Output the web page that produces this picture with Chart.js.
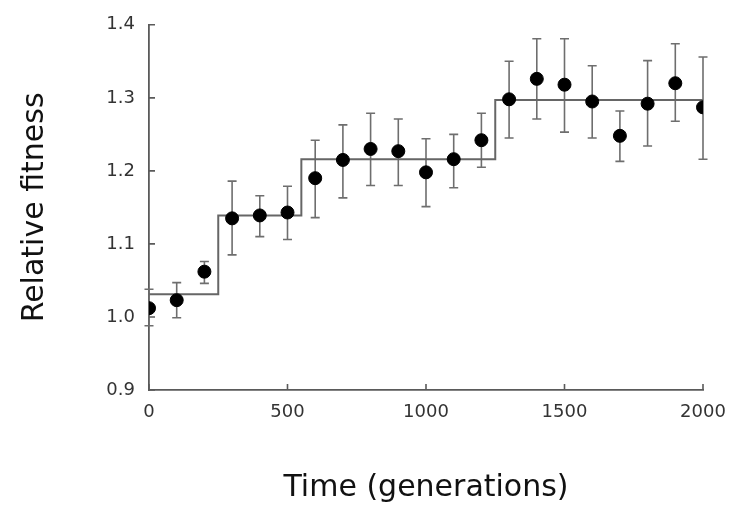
<!DOCTYPE html>
<html>
<head>
<meta charset="utf-8">
<script src="https://cdn.jsdelivr.net/npm/chart.js@4.4.0/dist/chart.umd.min.js"></script>
<style>
  html, body { margin: 0; padding: 0; background: #fff; }
  #wrap { width: 748px; height: 506px; }
</style>
</head>
<body>
<div id="wrap"><canvas id="fitness__Chart" width="748" height="506"></canvas></div>
<script>
// Generations sampled (x) and mean relative fitness (y)
const generations = [0, 100, 200, 300, 400, 500, 600, 700, 800, 900, 1000,
  1100, 1200, 1300, 1400, 1500, 1600, 1700, 1800, 1900, 2000];
const fitness = [1.012, 1.023, 1.062, 1.135, 1.139, 1.143, 1.190, 1.215, 1.230, 1.227, 1.198,
  1.216, 1.242, 1.298, 1.326, 1.318, 1.295, 1.248, 1.292, 1.320, 1.287];
// Error bar ends
const errUpper = [1.038, 1.047, 1.076, 1.186, 1.166, 1.179, 1.242, 1.263, 1.279, 1.271, 1.244,
  1.250, 1.279, 1.350, 1.381, 1.381, 1.344, 1.282, 1.351, 1.374, 1.356];
const errLower = [0.988, 0.999, 1.046, 1.085, 1.110, 1.106, 1.136, 1.163, 1.180, 1.180, 1.151,
  1.177, 1.205, 1.245, 1.271, 1.253, 1.245, 1.213, 1.234, 1.268, 1.216];

// Step function fitted through the data
const stepX = [0, 250, 550, 1250, 2000];
const stepY = [1.031, 1.139, 1.216, 1.297, 1.297];

// Tick labels
const xTicks = [0, 500, 1000, 1500, 2000];
const yTicks = [0.9, 1.0, 1.1, 1.2, 1.3, 1.4];

const axisColor = '#5a5a5a';

// Draw error bars using the chart scales
const errorBars = {
  id: 'errorBars',
  beforeDatasetsDraw(chart) {
    const ctx = chart.ctx;
    const xs = chart.scales.x;
    const ys = chart.scales.y;
    ctx.save();
    ctx.strokeStyle = '#6e6e6e';
    ctx.lineWidth = 1.6;
    generations.forEach((g, i) => {
      const x = xs.getPixelForValue(g);
      const yTop = ys.getPixelForValue(errUpper[i]);
      const yBot = ys.getPixelForValue(errLower[i]);
      ctx.beginPath();
      ctx.moveTo(x, yTop);
      ctx.lineTo(x, yBot);
      ctx.moveTo(x - 4.5, yTop);
      ctx.lineTo(x + 4.5, yTop);
      ctx.moveTo(x - 4.5, yBot);
      ctx.lineTo(x + 4.5, yBot);
      ctx.stroke();
    });
    ctx.restore();
  }
};

// Axis ticks pointing into the plot
const innerTicks = {
  id: 'innerTicks',
  afterDraw(chart) {
    const ctx = chart.ctx;
    const xs = chart.scales.x;
    const ys = chart.scales.y;
    const area = chart.chartArea;
    ctx.save();
    ctx.strokeStyle = axisColor;
    ctx.lineWidth = 1.6;
    ctx.beginPath();
    xTicks.forEach(v => {
      const x = xs.getPixelForValue(v);
      ctx.moveTo(x, area.bottom);
      ctx.lineTo(x, area.bottom - 6);
    });
    yTicks.forEach(v => {
      const y = ys.getPixelForValue(v);
      ctx.moveTo(area.left, y);
      ctx.lineTo(area.left + 6, y);
    });
    ctx.stroke();
    ctx.restore();
  }
};

const ctx = document.getElementById('fitness__Chart').getContext('2d');
const fitnessChart = new Chart(ctx, {
  type: 'scatter',
  data: {
    datasets: [
      {
        label: 'Step fit',
        type: 'line',
        data: stepX.map((x, i) => ({ x: x, y: stepY[i] })),
        stepped: true,
        borderColor: '#666666',
        borderWidth: 2,
        pointRadius: 0,
        fill: false,
        order: 2,
      },
      {
        label: 'Relative fitness',
        data: generations.map((g, i) => ({ x: g, y: fitness[i] })),
        backgroundColor: '#000000',
        borderColor: '#000000',
        pointRadius: 6.5,
        pointHoverRadius: 6.5,
        order: 1,
      },
    ],
  },
  options: {
    responsive: false,
    animation: false,
    layout: {
      padding: { top: 19, right: 45, left: 0, bottom: 0 },
    },
    plugins: {
      legend: { display: false },
      tooltip: { enabled: false },
    },
    scales: {
      x: {
        type: 'linear',
        min: 0,
        max: 2000,
        afterBuildTicks: (scale) => { scale.ticks = xTicks.map(v => ({ value: v })); },
        afterFit: (scale) => { scale.height = 116; },
        grid: { display: false, drawTicks: false },
        border: { display: true, color: axisColor, width: 1.8 },
        ticks: {
          padding: 12,
          color: '#333333',
          font: { family: 'DejaVu Sans', size: 18 },
          maxRotation: 0,
          callback: (value) => String(value),
        },
        title: {
          display: true,
          text: 'Time (generations)',
          color: '#111111',
          font: { family: 'DejaVu Sans', size: 30 },
          padding: { top: 0, bottom: 0 },
        },
      },
      y: {
        min: 0.9,
        max: 1.4,
        afterBuildTicks: (scale) => { scale.ticks = yTicks.map(v => ({ value: v })); },
        afterFit: (scale) => { scale.width = 149; },
        grid: { display: false, drawTicks: false },
        border: { display: true, color: axisColor, width: 1.8 },
        ticks: {
          padding: 14,
          color: '#333333',
          font: { family: 'DejaVu Sans', size: 18 },
          callback: (value) => value.toFixed(1),
        },
        title: {
          display: true,
          text: 'Relative fitness',
          color: '#111111',
          font: { family: 'DejaVu Sans', size: 30 },
          padding: { top: 17, bottom: 0 },
        },
      },
    },
  },
  plugins: [errorBars, innerTicks],
});
</script>
</body>
</html>
